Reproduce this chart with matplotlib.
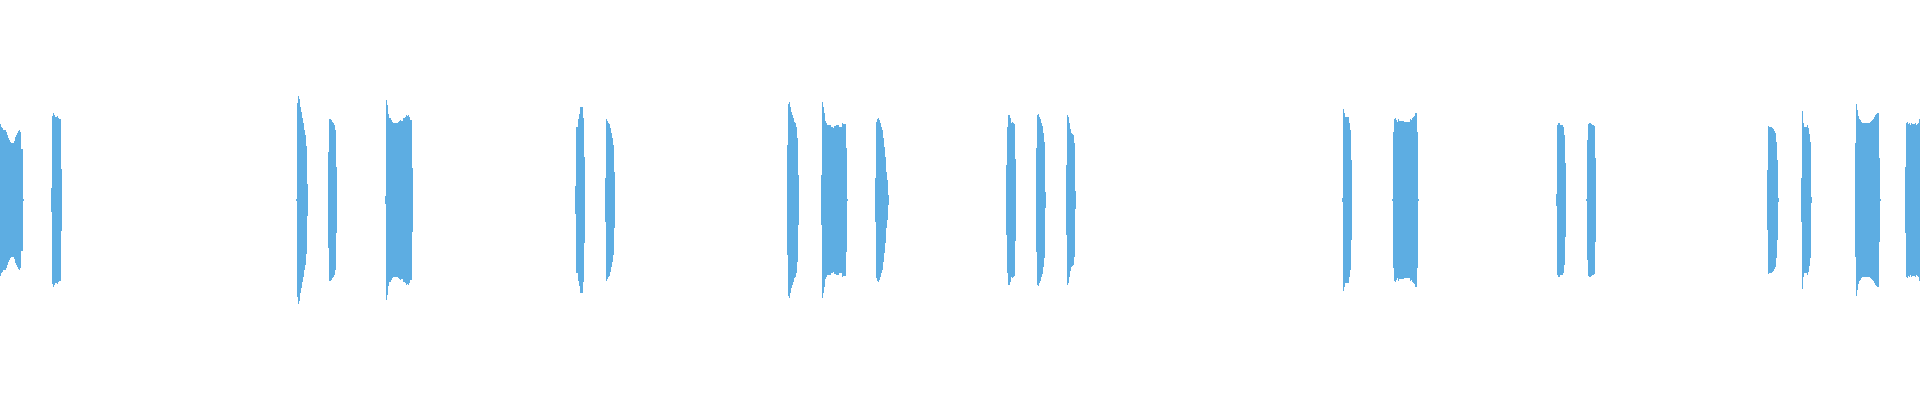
### Waveform of a recording: bursts of sound drawn as per-column amplitude bars ###

import numpy as np
import matplotlib
matplotlib.use('Agg')
import matplotlib.pyplot as plt

# Total number of columns (samples bins) in the view
n_bins = 1920

# Start bin of each burst
seg_starts = [0, 51, 296, 328, 385, 575, 605, 787, 821, 875, 1006,
              1036, 1066, 1342, 1392, 1556, 1586, 1767, 1801, 1855, 1905]

# Peak amplitude of each bin inside each burst (symmetric around zero)
seg_amps = [
    [76, 73, 72, 70, 70, 70, 68, 65, 62, 60, 58, 57, 57, 57, 59, 63, 65, 67, 69, 70, 68, 51, 51, 1],
    [12, 84, 87, 85, 83, 83, 84, 82, 81, 81, 31],
    [1, 97, 104, 101, 93, 88, 82, 77, 70, 65, 54, 16],
    [48, 81, 81, 80, 78, 77, 75, 70, 33],
    [4, 100, 95, 86, 82, 82, 80, 78, 77, 77, 77, 77, 77, 78, 79, 80, 79, 79, 82, 82, 83, 85, 84, 85, 83, 80, 80, 32],
    [14, 73, 73, 81, 86, 93, 93, 93, 82, 43],
    [22, 81, 79, 77, 76, 72, 67, 62, 55, 28],
    [55, 96, 98, 93, 88, 85, 82, 78, 77, 73, 62, 25],
    [25, 98, 93, 87, 79, 77, 75, 75, 75, 75, 73, 73, 72, 74, 74, 75, 75, 75, 73, 73, 73, 77, 76, 76, 76, 52, 1],
    [22, 78, 81, 82, 80, 77, 73, 70, 62, 53, 43, 28, 20, 5],
    [35, 73, 85, 85, 82, 77, 78, 77, 76, 41],
    [52, 85, 86, 83, 81, 77, 74, 67, 58, 8],
    [35, 85, 83, 77, 71, 67, 66, 65, 57, 9],
    [2, 91, 87, 83, 83, 83, 83, 77, 70, 40],
    [1, 68, 81, 82, 80, 78, 81, 79, 79, 79, 79, 79, 78, 78, 78, 78, 78, 78, 81, 80, 82, 83, 84, 87, 87, 68, 1],
    [6, 75, 77, 77, 75, 75, 75, 73, 65, 37],
    [1, 60, 76, 77, 77, 76, 75, 75, 74, 42],
    [30, 74, 73, 73, 73, 72, 71, 69, 67, 58, 40, 2],
    [22, 89, 77, 73, 73, 73, 75, 72, 66, 58, 3],
    [57, 96, 90, 84, 81, 80, 78, 77, 77, 77, 77, 77, 77, 77, 77, 78, 79, 80, 81, 83, 85, 86, 87, 87, 42, 1],
    [33, 77, 78, 76, 77, 75, 77, 76, 76, 76, 77, 75, 76, 77, 81],
]

wave_color = '#5dade2'

fig = plt.figure(figsize=(19.2, 4), dpi=100)
ax = fig.add_axes([0, 0, 1, 1])

# One bar per bin, from -amp to +amp
for start, amps in zip(seg_starts, seg_amps):
    amps = np.array(amps, dtype=float)
    bins = start + np.arange(len(amps))
    ax.bar(bins, 2 * amps, bottom=-amps, width=1, align='edge',
           color=wave_color, linewidth=0)

ax.set_xlim(0, n_bins)
ax.set_ylim(-200, 200)
ax.axis('off')

fig.savefig('out.png', dpi=100, facecolor='white')
